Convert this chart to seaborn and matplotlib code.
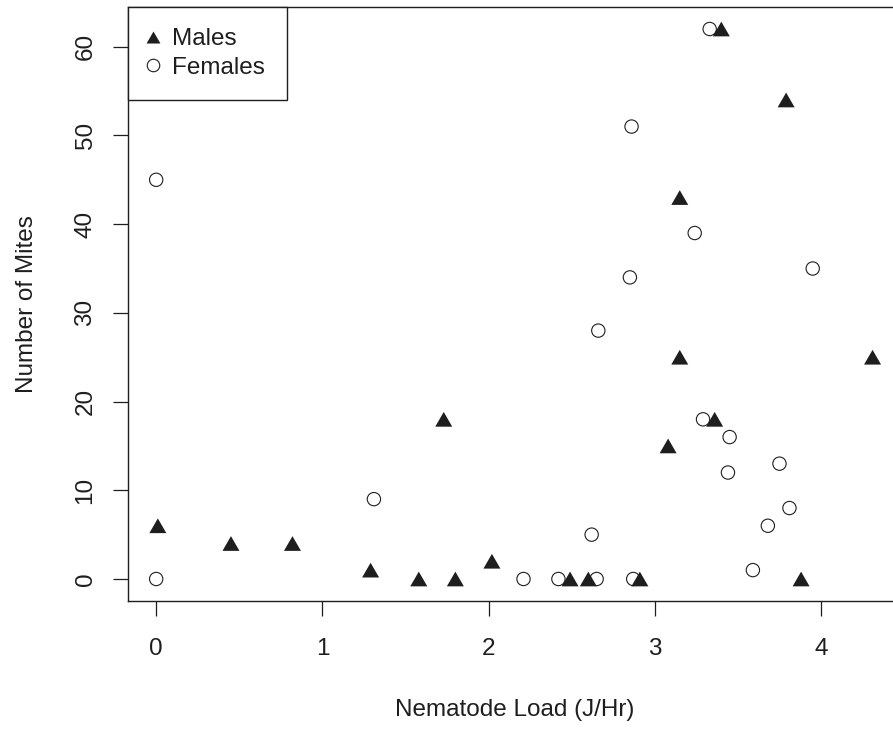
import numpy as np
import pandas as pd
import matplotlib
matplotlib.use("Agg")
import matplotlib.pyplot as plt
from matplotlib.lines import Line2D
import seaborn as sns

# Nematode load (J/Hr) and mite counts per beetle
male_load = [0.01, 0.45, 0.82, 1.29, 1.58, 1.80, 1.73, 2.02, 2.49, 2.60,
             2.91, 3.08, 3.15, 3.15, 3.36, 3.40, 3.79, 3.88, 4.31]
male_mites = [6, 4, 4, 1, 0, 0, 18, 2, 0, 0,
              0, 15, 43, 25, 18, 62, 54, 0, 25]

female_load = [0.00, 0.00, 1.31, 2.21, 2.42, 2.62, 2.65, 2.66, 2.85, 2.86,
               2.87, 3.24, 3.29, 3.33, 3.44, 3.45, 3.59, 3.68, 3.75, 3.81, 3.95]
female_mites = [0, 45, 9, 0, 0, 5, 0, 28, 34, 51,
                0, 39, 18, 62, 12, 16, 1, 6, 13, 8, 35]

x_ticks = [0, 1, 2, 3, 4]
y_ticks = [0, 10, 20, 30, 40, 50, 60]

sns.set_style("white")
plt.rcParams["font.family"] = ["Liberation Sans", "DejaVu Sans"]
ink = "#1e1e1e"
fs = 17.5

fig = plt.figure(figsize=(8.93, 7.29), dpi=100)
ax = fig.add_axes([0.1428, 0.1756, 0.8664, 0.8148])

tri = [(-1, -0.866), (1, -0.866), (0, 0.866)]

males = pd.DataFrame({"load": male_load, "mites": male_mites})
females = pd.DataFrame({"load": female_load, "mites": female_mites})

sns.scatterplot(data=females, x="load", y="mites", ax=ax, marker="o", s=92,
                facecolor="none", edgecolor=ink, linewidth=0.8, zorder=3)
sns.scatterplot(data=males, x="load", y="mites", ax=ax, marker=tri, s=150,
                color=ink, edgecolor="none", linewidth=0, zorder=4)

# R-style 4% padding around the data range
xr = max(max(male_load), max(female_load))
yr = max(max(male_mites), max(female_mites))
ax.set_xlim(-0.04 * xr, 1.04 * xr)
ax.set_ylim(-0.04 * yr, 1.04 * yr)

ax.set_xticks(x_ticks)
ax.set_xticklabels([str(t) for t in x_ticks])
ax.set_yticks(y_ticks)
ax.set_yticklabels([str(t) for t in y_ticks], rotation=90, va="center")

ax.tick_params(axis="both", direction="out", length=10.8, width=0.9,
               color=ink, labelsize=fs, labelcolor=ink,
               bottom=True, left=True)
ax.tick_params(axis="x", pad=15.5)
ax.tick_params(axis="y", pad=11.5)

for side in ["left", "bottom", "top", "right"]:
    ax.spines[side].set_visible(True)
    ax.spines[side].set_color(ink)
    ax.spines[side].set_linewidth(1.0)

ax.set_xlabel("Nematode Load (J/Hr)", fontsize=fs, color=ink, va="center")
ax.set_ylabel("Number of Mites", fontsize=fs, color=ink, va="center")
ax.xaxis.set_label_coords(0.5, -0.1843)
ax.yaxis.set_label_coords(-0.1305, 0.5)

handles = [
    Line2D([], [], linestyle="none", marker=tri, markersize=10.0,
           markerfacecolor=ink, markeredgecolor="none", label="Males"),
    Line2D([], [], linestyle="none", marker="o", markersize=9.0,
           markerfacecolor="none", markeredgecolor=ink, markeredgewidth=0.8,
           label="Females"),
]
leg = ax.legend(handles=handles, loc="upper left", bbox_to_anchor=(0, 1),
                borderaxespad=0, fontsize=fs, frameon=True, fancybox=False,
                framealpha=1, edgecolor=ink, borderpad=0.87, labelspacing=0.27,
                handlelength=0.36, handletextpad=0.62, labelcolor=ink)
leg.get_frame().set_linewidth(1.0)

fig.savefig("out.png", dpi=100)
